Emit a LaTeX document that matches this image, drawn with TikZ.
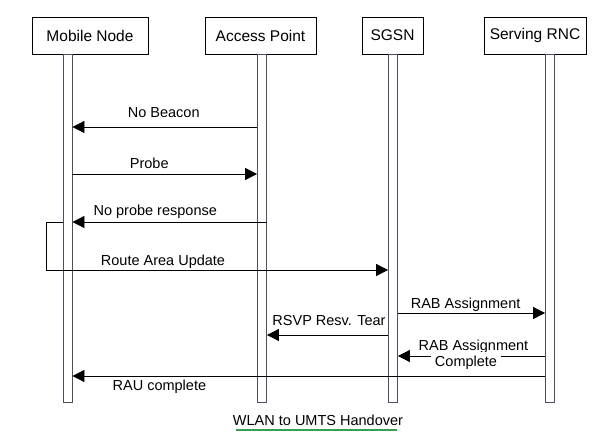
\documentclass[tikz,border=0pt]{standalone}
\usepackage{fontspec}
\setmainfont{Liberation Sans}
\usetikzlibrary{arrows.meta,positioning}
\definecolor{lifegray}{RGB}{78,78,94}
\definecolor{capgreen}{RGB}{52,160,80}

\begin{document}
\begin{tikzpicture}[x=1pt,y=1pt,
		>={Triangle[length=12pt,width=12pt]},
		node distance=2cm,on grid,
		actor/.style={draw,line width=0.8pt,minimum height=37pt,inner sep=0pt,
			font=\fontsize{15.5}{18}\selectfont},
		life/.style={draw=lifegray,fill=white,line width=0.8pt,
			minimum width=9pt,minimum height=348pt,inner sep=0pt},
		msg/.style={->,line width=0.8pt},
		lbl/.style={inner sep=0pt,text depth=0pt,font=\fontsize{14.5}{17}\selectfont},
		uline/.style={draw=capgreen,line width=2.2pt}
	]
	\useasboundingbox (0,0) rectangle (595,-437);
	\node[actor,minimum width=116pt] (mn) at (90,-35.5) {Mobile Node};
	\node[actor,minimum width=111pt] (ap) [right=170.5pt of mn] {Access Point};
	\node[actor,minimum width=61pt] (sgsn) [right=132pt of ap] {SGSN};
	\node[actor,minimum width=102pt] (rnc) [right=142.5pt of sgsn] {Serving RNC};
	\node[life] (mnL) at (67.5,-228) {};
	\node[life] (apL) at (262,-228) {};
	\node[life] (sgsnL) at (393,-228) {};
	\node[life] (rncL) at (550,-228) {};
	\coordinate (loop) at (46,-222);
	\path[msg]
		(apL.west |- 0,-127) edge node [lbl,above=9pt,xshift=-1pt] {No Beacon} (mnL.east |- 0,-127)
		(mnL.east |- 0,-174) edge node [lbl,above=5pt,pos=.416] {Probe} (apL.west |- 0,-174)
		(apL.east |- loop)   edge node [lbl,above=6pt,pos=.574] {No probe response} (mnL.east |- loop)
		(sgsnL.east |- 0,-313) edge node [lbl,above=4pt,pos=.46] {RAB Assignment} (rncL.west |- 0,-313)
		(sgsnL.west |- 0,-335) edge node [lbl,above=9pt,xshift=1.5pt] {RSVP Resv. Tear} (apL.east |- 0,-335)
		(rncL.west |- 0,-356) edge node [lbl,above=5pt,xshift=2pt] {RAB Assignment}
		                           node [lbl,fill=white,inner xsep=4pt,inner ysep=3pt,anchor=base,
		                                 yshift=-10pt,xshift=-5.5pt] {Complete} (sgsnL.east |- 0,-356)
		(rncL.west |- 0,-376) edge node [lbl,below=4pt,pos=.816] {RAU complete} (mnL.east |- 0,-376)
	;
	\draw[msg] (mnL.west |- loop) -- (loop) |- (sgsnL.west |- 0,-270)
		node [lbl,above=4pt,pos=.671] {Route Area Update};
	\node[lbl,anchor=base] (cap) at (318,-425) {WLAN to UMTS Handover};
	\draw[uline] ([xshift=3pt,yshift=-5pt]cap.base west) -- ([xshift=-6pt,yshift=-5pt]cap.base east);
\end{tikzpicture}
\end{document}
